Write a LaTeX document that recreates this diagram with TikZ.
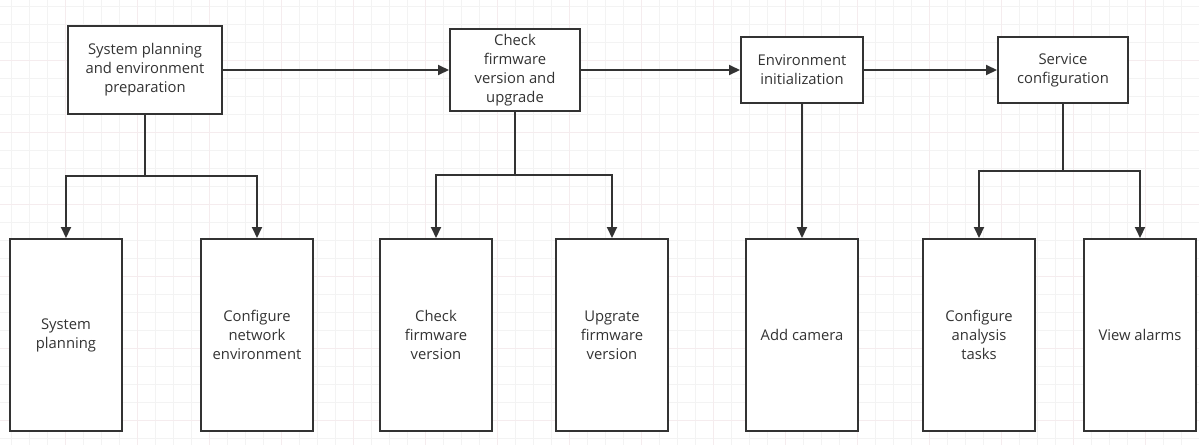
\documentclass[tikz,border=0pt]{standalone}
\usepackage{fontspec}
\setmainfont{Open Sans}
\usetikzlibrary{arrows.meta}
\definecolor{ink}{HTML}{333333}
\definecolor{gridminor}{HTML}{F3F3F3}
\definecolor{gridmajor}{HTML}{F5ECEE}
\tikzset{
  box/.style={draw=ink, line width=2pt, fill=white, inner sep=0pt,
    align=center, text=ink, font=\fontsize{14.8}{19}\selectfont},
  stage/.style={box},
  task/.style={box, minimum width=112pt, minimum height=192pt},
  link/.style={draw=ink, line width=2pt},
  arrow/.style={link, -{Triangle[length=11pt,width=10pt]}},
}
\begin{document}
\begin{tikzpicture}[x=1pt,y=-1pt]
  % canvas and background grid
  \useasboundingbox (0,0) rectangle (1199,445);
  \fill[white] (0,0) rectangle (1199,445);
  \foreach \gx in {11,29,...,1199} \draw[gridminor, line width=0.8pt] (\gx,0) -- (\gx,445);
  \foreach \gy in {6,24,...,445} \draw[gridminor, line width=0.8pt] (0,\gy) -- (1199,\gy);
  \foreach \gx in {65,137,...,1199} \draw[gridmajor, line width=1pt] (\gx,0) -- (\gx,445);
  \foreach \gy in {60,132,...,445} \draw[gridmajor, line width=1pt] (0,\gy) -- (1199,\gy);

  % main stages
  \node[stage, minimum width=154pt, minimum height=88pt] (s1) at (145,70)
    {System planning\\and environment\\preparation};
  \node[stage, minimum width=130pt, minimum height=82pt] (s2) at (515,70)
    {Check\\firmware\\version and\\upgrade};
  \node[stage, minimum width=122pt, minimum height=66pt] (s3) at (802,70)
    {Environment\\initialization};
  \node[stage, minimum width=130pt, minimum height=66pt] (s4) at (1063,70)
    {Service\\configuration};

  % tasks
  \node[task] (t1) at (66,335) {System\\planning};
  \node[task] (t2) at (257,335) {Configure\\network\\environment};
  \node[task] (t3) at (436,335) {Check\\firmware\\version};
  \node[task] (t4) at (612,335) {Upgrate\\firmware\\version};
  \node[task] (t5) at (802,335) {Add camera};
  \node[task] (t6) at (979,335) {Configure\\analysis\\tasks};
  \node[task] (t7) at (1140,335) {View alarms};

  % flow between stages
  \draw[arrow] (s1) -- (s2);
  \draw[arrow] (s2) -- (s3);
  \draw[arrow] (s3) -- (s4);

  % branch junctions
  \coordinate (j1) at (145,176);
  \coordinate (j2) at (515,175);
  \coordinate (j4) at (1063,171);

  \draw[link] (s1.south) -- (j1);
  \draw[arrow] (j1) -| (t1.north);
  \draw[arrow] (j1) -| (t2.north);

  \draw[link] (s2.south) -- (j2);
  \draw[arrow] (j2) -| (t3.north);
  \draw[arrow] (j2) -| (t4.north);

  \draw[arrow] (s3.south) -- (t5.north);

  \draw[link] (s4.south) -- (j4);
  \draw[arrow] (j4) -| (t6.north);
  \draw[arrow] (j4) -| (t7.north);
\end{tikzpicture}
\end{document}
